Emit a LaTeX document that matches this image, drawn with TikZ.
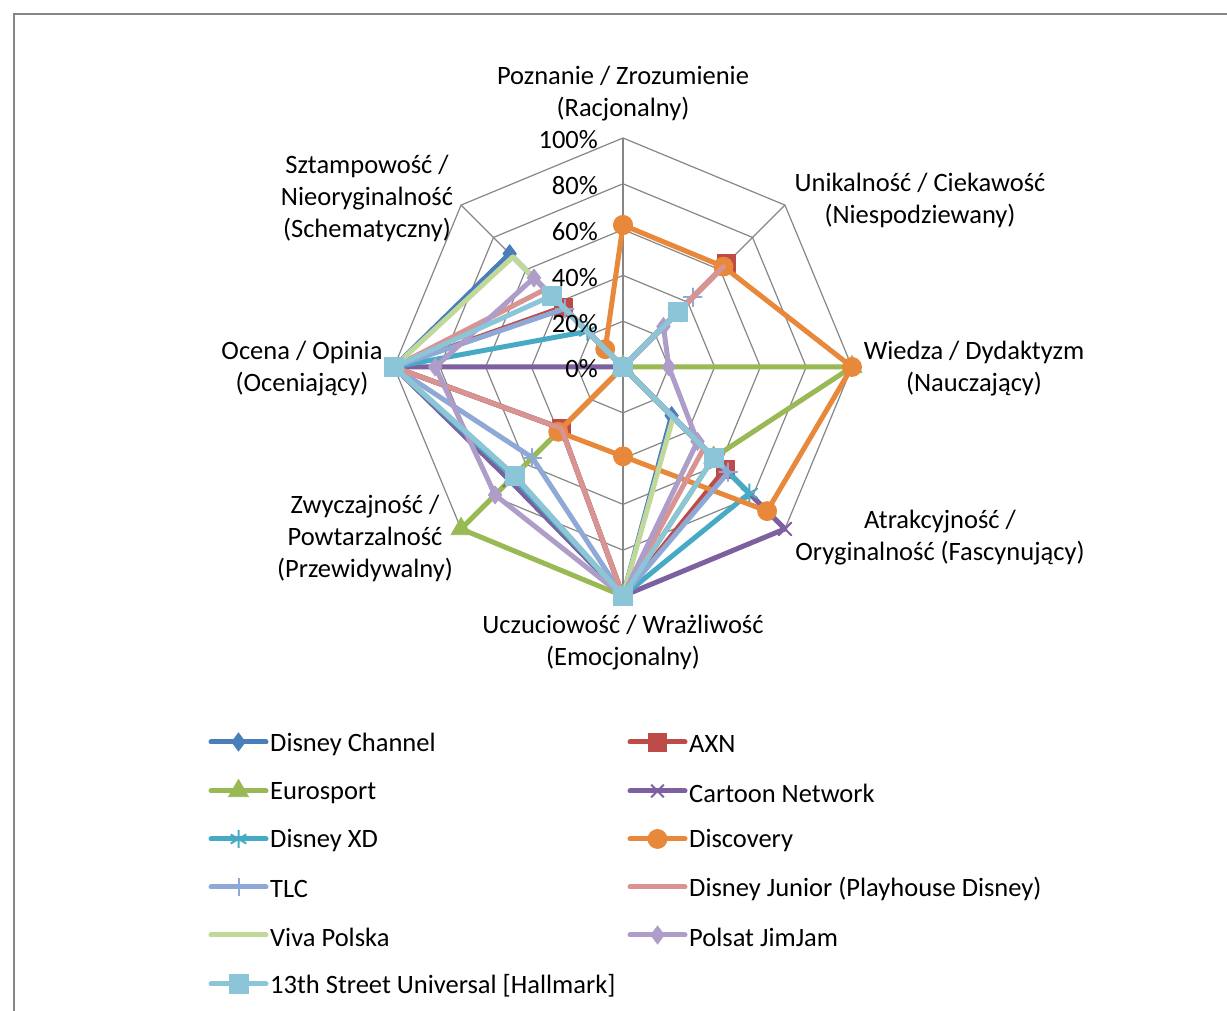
\documentclass[tikz,border=0pt]{standalone}
\usepackage{fontspec}
\setmainfont{Carlito}
\usetikzlibrary{plotmarks}
\definecolor{cDC}{HTML}{4A7EBB}
\definecolor{cAXN}{HTML}{BE4B48}
\definecolor{cEUR}{HTML}{98B954}
\definecolor{cCN}{HTML}{7D60A0}
\definecolor{cDXD}{HTML}{46AAC5}
\definecolor{cDIS}{HTML}{E8883A}
\definecolor{cTLC}{HTML}{8EA9D6}
\definecolor{cDJ}{HTML}{D99390}
\definecolor{cVIVA}{HTML}{C0D89A}
\definecolor{cJJ}{HTML}{AE9DC8}
\definecolor{cTH}{HTML}{8CC5D8}
\definecolor{gridgray}{HTML}{868686}
\tikzset{
  grid/.style={draw=gridgray, line width=1.2pt},
  ser/.style={line width=5pt, line join=round, line cap=round},
  lbl/.style={font=\fontsize{26.5}{32}\selectfont, align=center, inner sep=0pt},
  tick/.style={font=\fontsize{26.5}{32}\selectfont, anchor=east, inner sep=0pt},
  leg/.style={font=\fontsize{26.5}{32}\selectfont, anchor=west, inner sep=0pt},
  fm/.style={solid, line width=0.8pt},
  lm/.style={solid, line width=2pt},
}
\begin{document}
\begin{tikzpicture}[x=1pt,y=1pt]
\useasboundingbox (0,0) rectangle (1227,1011);
\draw[draw=gridgray, line width=1.2pt] (14,0) -- (14,997) -- (1227,997);
\begin{scope}[shift={(623pt,644pt)}, x=2.29pt, y=2.29pt]
  \foreach \r in {20,40,60,80,100}
    \draw[grid] (90:\r) -- (45:\r) -- (0:\r) -- (-45:\r) -- (-90:\r) -- (-135:\r) -- (180:\r) -- (135:\r) -- cycle;
  \foreach \a in {90,45,0,-45,-90,-135,180,135}
    \draw[grid] (0,0) -- (\a:100);
  % 1 Disney Channel
  \draw[ser, cDC] plot[mark=diamond*, mark size=9pt, mark options={fm, fill=cDC}] coordinates {(90:0) (45:62) (0:0) (-45:30) (-90:100) (-135:38) (180:100) (135:70) (90:0)};
  % 2 AXN
  \draw[ser, cAXN] plot[mark=square*, mark size=9pt, mark options={fm, fill=cAXN}] coordinates {(90:0) (45:64) (0:0) (-45:63) (-90:100) (-135:38) (180:100) (135:37) (90:0)};
  % 3 Eurosport
  \draw[ser, cEUR] plot[mark=triangle*, mark size=11.5pt, mark options={fm, fill=cEUR}] coordinates {(90:0) (45:0) (0:100) (-45:56) (-90:100) (-135:100) (180:0) (135:0) (90:0)};
  % 4 Cartoon Network
  \draw[ser, cCN] plot[mark=x, mark size=9pt, mark options={lm}] coordinates {(90:0) (45:32) (0:0) (-45:100) (-90:100) (-135:70) (180:100) (135:0) (90:0)};
  % 5 Disney XD
  \draw[ser, cDXD] plot[mark=asterisk, mark size=9pt, mark options={lm}] coordinates {(90:0) (45:34) (0:0) (-45:78) (-90:100) (-135:68) (180:100) (135:22) (90:0)};
  % 6 Discovery
  \draw[ser, cDIS] plot[mark=*, mark size=9.5pt, mark options={fm, fill=cDIS}] coordinates {(90:62) (45:62) (0:100) (-45:89) (-90:39) (-135:40) (180:0) (135:11) (90:62)};
  % 7 TLC
  \draw[ser, cTLC] plot[mark=+, mark size=9pt, mark options={lm}] coordinates {(90:0) (45:43) (0:0) (-45:65) (-90:100) (-135:56) (180:100) (135:36) (90:0)};
  % 8 Disney Junior
  \draw[ser, cDJ] plot coordinates {(90:0) (45:62) (0:0) (-45:50) (-90:100) (-135:38) (180:100) (135:48) (90:0)};
  % 9 Viva Polska
  \draw[ser, cVIVA] plot coordinates {(90:0) (45:34) (0:0) (-45:31) (-90:100) (-135:67) (180:100) (135:68) (90:0)};
  % 10 Polsat JimJam
  \draw[ser, cJJ] plot[mark=diamond*, mark size=9pt, mark options={fm, fill=cJJ}] coordinates {(90:0) (45:25) (0:20) (-45:46) (-90:100) (-135:79) (180:82) (135:55) (90:0)};
  % 11 13th Street
  \draw[ser, cTH] plot[mark=square*, mark size=9.5pt, mark options={fm, fill=cTH}] coordinates {(90:0) (45:34) (0:0) (-45:56) (-90:100) (-135:67) (180:100) (135:44) (90:0)};
\end{scope}
% tick labels
\node[tick] (t0) at (598,642) {0\%};
\node[tick] (t20) at (598,687.8) {20\%};
\node[tick] (t40) at (598,733.6) {40\%};
\node[tick] (t60) at (598,779.4) {60\%};
\node[tick] (t80) at (598,825.2) {80\%};
\node[tick] (t100) at (598,871) {100\%};
% category labels
\node[lbl] (ax0) at (623,917) {Poznanie / Zrozumienie\\(Racjonalny)};
\node[lbl] (ax1) at (920,811) {Unikalność / Ciekawość\\(Niespodziewany)};
\node[lbl] (ax2) at (974,642) {Wiedza / Dydaktyzm\\(Nauczający)};
\node[lbl] (ax3) at (940,473) {Atrakcyjność /\\Oryginalność (Fascynujący)};
\node[lbl] (ax4) at (623,368) {Uczuciowość / Wrażliwość\\(Emocjonalny)};
\node[lbl] (ax5) at (365,473) {Zwyczajność /\\Powtarzalność\\(Przewidywalny)};
\node[lbl] (ax6) at (302,642) {Ocena / Opinia\\(Oceniający)};
\node[lbl] (ax7) at (367,813) {Sztampowość /\\Nieoryginalność\\(Schematyczny)};
% legend
\draw[ser, cDC] (211,269) -- (266,269);
\draw plot[only marks, mark=diamond*, mark size=9pt, mark options={fm, draw=cDC, fill=cDC}] coordinates {(238.5,269)};
\node[leg] (l1) at (270,267) {Disney Channel};
\draw[ser, cAXN] (630,269) -- (685,269);
\draw plot[only marks, mark=square*, mark size=9pt, mark options={fm, draw=cAXN, fill=cAXN}] coordinates {(657.5,269)};
\node[leg] (l2) at (689,267) {AXN};
\draw[ser, cEUR] (211,220) -- (266,220);
\draw plot[only marks, mark=triangle*, mark size=11.5pt, mark options={fm, draw=cEUR, fill=cEUR}] coordinates {(238.5,220)};
\node[leg] (l3) at (270,218) {Eurosport};
\draw[ser, cCN] (630,220) -- (685,220);
\draw plot[only marks, mark=x, mark size=9pt, mark options={lm, draw=cCN}] coordinates {(657.5,220)};
\node[leg] (l4) at (689,218) {Cartoon Network};
\draw[ser, cDXD] (211,172) -- (266,172);
\draw plot[only marks, mark=asterisk, mark size=9pt, mark options={lm, draw=cDXD}] coordinates {(238.5,172)};
\node[leg] (l5) at (270,170) {Disney XD};
\draw[ser, cDIS] (630,172) -- (685,172);
\draw plot[only marks, mark=*, mark size=9.5pt, mark options={fm, draw=cDIS, fill=cDIS}] coordinates {(657.5,172)};
\node[leg] (l6) at (689,170) {Discovery};
\draw[ser, cTLC] (211,124) -- (266,124);
\draw plot[only marks, mark=+, mark size=9pt, mark options={lm, draw=cTLC}] coordinates {(238.5,124)};
\node[leg] (l7) at (270,122) {TLC};
\draw[ser, cDJ] (630,124) -- (685,124);
\node[leg] (l8) at (689,122) {Disney Junior (Playhouse Disney)};
\draw[ser, cVIVA] (211,76) -- (266,76);
\node[leg] (l9) at (270,74) {Viva Polska};
\draw[ser, cJJ] (630,76) -- (685,76);
\draw plot[only marks, mark=diamond*, mark size=9pt, mark options={fm, draw=cJJ, fill=cJJ}] coordinates {(657.5,76)};
\node[leg] (l10) at (689,74) {Polsat JimJam};
\draw[ser, cTH] (211,27) -- (266,27);
\draw plot[only marks, mark=square*, mark size=9.5pt, mark options={fm, draw=cTH, fill=cTH}] coordinates {(238.5,27)};
\node[leg] (l11) at (270,25) {13th Street Universal [Hallmark]};
\end{tikzpicture}
\end{document}
